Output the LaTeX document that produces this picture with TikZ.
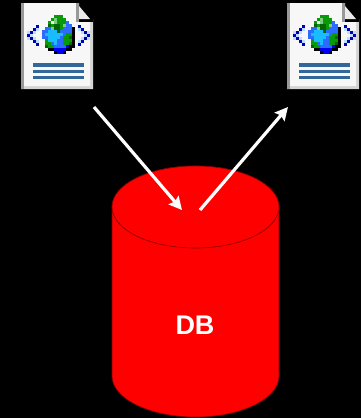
\documentclass[tikz,border=0pt]{standalone}
\usepackage{fontspec}
\setmainfont{Liberation Sans}
\usetikzlibrary{arrows.meta, backgrounds}
\definecolor{pageGray}{HTML}{999999}
\definecolor{pageEdge}{HTML}{D4D4D4}
\definecolor{barBlue}{HTML}{336699}
\definecolor{globeG}{HTML}{089A08}
\definecolor{globeD}{HTML}{056405}
\definecolor{globeL}{HTML}{7FCB7F}
\definecolor{globeW}{HTML}{E4F4E4}
\definecolor{globeB}{HTML}{2B6BFF}
\definecolor{globeC}{HTML}{19BDFF}
\definecolor{globeN}{HTML}{0000F0}
\definecolor{chevN}{HTML}{0000B4}
\definecolor{chevL}{HTML}{BCDFFF}
\tikzset{dbBody/.style={fill=red, draw=black!50!red, line width=0.6pt}}
\tikzset{dbLabel/.style={font=\fontsize{27}{27}\selectfont\bfseries, text=white, inner sep=0pt}}
\tikzset{flowArrow/.style={draw=white, line width=3.2pt, -{Stealth[length=13pt,width=13pt,inset=2pt]}}}

% one run of pixels: first column, row, number of pixels, colour
\newcommand{\pixrun}[4]{\fill[#4] ({42+3*#1},{15+3*#2}) rectangle ++({3*#3},3);}

\newcommand{\docicon}[1]{
  \begin{scope}[xshift=#1]
    % sheet and folded corner
    \fill[pageEdge] (21,3) -- (79,3) -- (79,19) -- (93,19) -- (93,89) -- (21,89) -- cycle;
    \fill[black!3] (24,3) -- (76,3) -- (76,22) -- (90,22) -- (90,86) -- (24,86) -- cycle;
    \fill[pageGray] (21,3) rectangle (24,89);
    \fill[pageGray] (76,3) rectangle (79,22);
    \fill[black] (79,19) rectangle (93,22);
    \fill[black!8] (79,6) -- (90,19) -- (79,19) -- cycle;
    % text lines
    \fill[barBlue] (33,63) rectangle (84,67);
    \fill[barBlue] (33,70) rectangle (84,73);
    \fill[barBlue] (33,76) rectangle (84,79);
    % globe
    \foreach \c/\r/\n in {4/0/3,3/1/1,5/1/3,2/2/1,5/2/3,3/3/1,6/3/1,6/4/1,8/6/2,7/7/2,1/8/1,7/8/3,1/9/2,7/9/2,2/10/2}
      {\pixrun{\c}{\r}{\n}{globeG}}
    \foreach \c/\r/\n in {2/3/1,4/3/2,4/4/2,5/5/1,9/7/1,9/9/1,1/10/1}
      {\pixrun{\c}{\r}{\n}{globeD}}
    \foreach \c/\r/\n in {4/1/1,4/2/1,7/3/1,3/4/1}
      {\pixrun{\c}{\r}{\n}{globeL}}
    \pixrun{3}{2}{1}{globeW}
    \foreach \c/\r/\n in {8/2/1,8/3/2,1/4/2,7/4/3,0/5/2,6/5/4,0/6/1,7/6/1,0/7/2,6/7/1,5/8/2,3/9/1,5/9/2,4/10/4}
      {\pixrun{\c}{\r}{\n}{globeB}}
    \foreach \c/\r/\n in {2/5/3,1/6/6,2/7/4,2/8/3,4/9/1}
      {\pixrun{\c}{\r}{\n}{globeC}}
    \foreach \c/\r/\n in {8/10/1,4/11/4,5/12/2}
      {\pixrun{\c}{\r}{\n}{globeN}}
    \foreach \c/\r/\n in {10/4/1,10/5/1,10/6/1,10/7/1,10/8/1,10/9/1,9/10/2,2/11/2,8/11/2,4/12/1,7/12/1}
      {\pixrun{\c}{\r}{\n}{black}}
    % angle brackets
    \foreach \c/\r in {-2/3.33,-3/4.33,-4/5.33,-5/6.33,-4/7.33,-3/8.33,-2/9.33,12/3.33,13/4.33,14/5.33,15/6.33,14/7.33,13/8.33,12/9.33}
      {\pixrun{\c}{\r}{1}{chevN}}
    \foreach \c/\r in {-2/4.33,-3/5.33,-4/6.33,-3/7.33,-2/8.33,-5/5.33,-5/7.33,12/4.33,13/5.33,14/6.33,13/7.33,12/8.33,15/5.33,15/7.33}
      {\pixrun{\c}{\r}{1}{chevL}}
  \end{scope}
}

\begin{document}
\begin{tikzpicture}[x=1pt, y=-1pt,
  background rectangle/.style={fill=black}, show background rectangle,
  inner frame sep=0pt]

\useasboundingbox (0,0) rectangle (361,418);

% Documents
\docicon{0pt}
\docicon{266pt}

% Database
\draw[dbBody] (112,207) -- (112,376) arc[start angle=180, end angle=360, x radius=83.5, y radius=-41]
  -- (279,207) arc[start angle=0, end angle=180, x radius=83.5, y radius=-41] -- cycle;
\draw[dbBody] (195.5,207) ellipse[x radius=83.5, y radius=41];
\node[dbLabel] (db) at (195,325) {DB};

% Requests
\coordinate (inStart) at (94,107);
\coordinate (inEnd) at (182,210);
\coordinate (outStart) at (200,210);
\coordinate (outEnd) at (288,107);
\draw[flowArrow] (inStart) -- (inEnd);
\draw[flowArrow] (outStart) -- (outEnd);

\end{tikzpicture}
\end{document}
